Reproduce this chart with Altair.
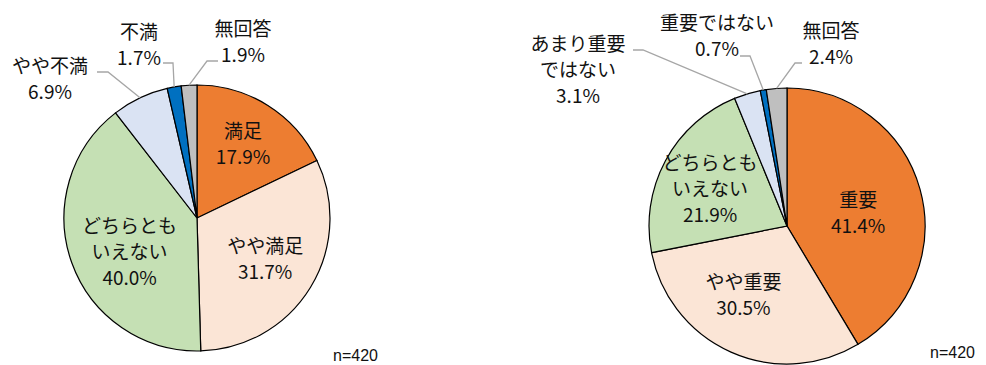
import math
import altair as alt
import pandas as pd

# ---------------- data ----------------
left_cats = ["満足", "やや満足", "どちらともいえない", "やや不満", "不満", "無回答"]
left_labels = ["満足", "やや満足", "どちらとも\nいえない", "やや不満", "不満", "無回答"]
left_vals = [17.9, 31.7, 40.0, 6.9, 1.7, 1.9]

right_cats = ["重要", "やや重要", "どちらともいえない", "あまり重要ではない", "重要ではない", "無回答"]
right_labels = ["重要", "やや重要", "どちらとも\nいえない", "あまり重要\nではない", "重要ではない", "無回答"]
right_vals = [41.4, 30.5, 21.9, 3.1, 0.7, 2.4]

n_text = "n=420"

# ---------------- styles / layout ----------------
colors = ["#ED7D31", "#FBE5D6", "#C5E0B4", "#DAE3F3", "#0070C0", "#BFBFBF"]
W, H = 970, 357
FONT = "Noto Sans CJK JP"
FS = 19
LH = 26

left_geom = dict(cx=189, cy=210, r=133)
right_geom = dict(cx=779, cy=218, r=138)

# inside labels: slice index -> (radius fraction, nudge dx, nudge dy)
left_inner = {0: (0.65, 0, 0), 1: (0.60, 0, 0), 2: (0.57, 4, 9)}
right_inner = {0: (0.52, 2, 7), 1: (0.60, -10, -6), 2: (0.616, -2, 4)}

# outside label block centre (dx, dy) and leader elbow points, relative to pie centre
left_outer = {
    3: dict(text=(-147, -138), elbow=[(-100, -146), (-89, -146)]),
    4: dict(text=(-58, -172), elbow=[(-34, -155), (-24, -155)]),
    5: dict(text=(46, -175), elbow=[(21, -157), (10, -157)]),
}
right_outer = {
    3: dict(text=(-209, -155), elbow=[(-154, -176), (-144, -176)]),
    4: dict(text=(-70, -189), elbow=[(-47, -170), (-37, -170)]),
    5: dict(text=(44, -181), elbow=[(15, -163), (8, -163)]),
}
left_n_pos = (325, 348)
right_n_pos = (922, 345)

color_scale = alt.Scale(domain=list(range(6)), range=colors)


def build_pie(name, cats, labels, vals, geom, inner, outer, n_pos):
    cx, cy, r = geom["cx"], geom["cy"], geom["r"]
    total = sum(vals)
    df = pd.DataFrame({"cat": cats, "value": vals, "slot": list(range(len(vals)))})

    theta = alt.Theta("value:Q", stack=True)
    order = alt.Order("slot:Q", sort="ascending")

    layers = [
        alt.Chart(df).mark_arc(stroke="#000000", strokeWidth=1.2).encode(
            theta=theta,
            order=order,
            color=alt.Color("slot:O", scale=color_scale, legend=None),
            x=alt.value(cx), y=alt.value(cy),
            radius=alt.value(r),
        )
    ]

    # inside labels: one layer each, full data so stacking is identical
    for i, (frac, ndx, ndy) in inner.items():
        txt = labels[i] + "\n" + f"{vals[i]:.1f}%"
        nlines = txt.count("\n") + 1
        dfi = df.assign(t=[txt if j == i else "" for j in range(len(vals))])
        layers.append(
            alt.Chart(dfi).mark_text(
                font=FONT, fontSize=FS, lineBreak="\n", lineHeight=LH,
                color="#111111", align="center", baseline="middle",
                dx=ndx, dy=ndy - (nlines - 1) * LH / 2,
            ).encode(
                theta=theta,
                order=order,
                radius=alt.value(frac * r),
                text="t:N",
                x=alt.value(cx), y=alt.value(cy),
            )
        )

    # outside labels and leader lines (leader end point from slice mid-angle)
    out_rows, line_rows = [], []
    cum = 0.0
    for i, v in enumerate(vals):
        mid = (cum + v / 2) / total * 2 * math.pi
        cum += v
        if i not in outer:
            continue
        lay = outer[i]
        t = labels[i] + "\n" + f"{v:.1f}%"
        nlines = t.count("\n") + 1
        out_rows.append(dict(
            tx=cx + lay["text"][0],
            ty=cy + lay["text"][1] - (nlines - 1) * LH / 2,
            t=t,
        ))
        pts = [(cx + dx, cy + dy) for dx, dy in lay["elbow"]]
        pts.append((cx + r * math.sin(mid), cy - r * math.cos(mid)))
        for k, (px, py) in enumerate(pts):
            line_rows.append(dict(id=f"{name}{i}", k=k, px=px, py=py))
    odf = pd.DataFrame(out_rows)
    ldf = pd.DataFrame(line_rows)

    layers.append(
        alt.Chart(ldf).mark_line(color="#A6A6A6", strokeWidth=1.3).encode(
            x=alt.X("px:Q", scale=None, axis=None),
            y=alt.Y("py:Q", scale=None, axis=None),
            detail="id:N",
            order="k:Q",
        )
    )
    layers.append(
        alt.Chart(odf).mark_text(
            font=FONT, fontSize=FS, lineBreak="\n", lineHeight=LH,
            color="#111111", align="center", baseline="middle",
        ).encode(
            x=alt.X("tx:Q", scale=None, axis=None),
            y=alt.Y("ty:Q", scale=None, axis=None),
            text="t:N",
        )
    )
    ndf = pd.DataFrame({"t": [n_text], "x": [n_pos[0]], "y": [n_pos[1]]})
    layers.append(
        alt.Chart(ndf).mark_text(
            font="Liberation Sans", fontSize=16, color="#111111",
            align="left", baseline="middle",
        ).encode(
            x=alt.X("x:Q", scale=None, axis=None),
            y=alt.Y("y:Q", scale=None, axis=None),
            text="t:N",
        )
    )
    return alt.layer(*layers)


left = build_pie("L", left_cats, left_labels, left_vals, left_geom, left_inner, left_outer, left_n_pos)
right = build_pie("R", right_cats, right_labels, right_vals, right_geom, right_inner, right_outer, right_n_pos)

chart = alt.layer(left, right).resolve_scale(theta="independent").properties(
    width=W, height=H, padding=0,
    autosize=alt.AutoSizeParams(type="none"),
    background="#ffffff",
).configure_view(stroke=None)

chart.save("out.html", embed_options={"renderer": "svg", "actions": False})
